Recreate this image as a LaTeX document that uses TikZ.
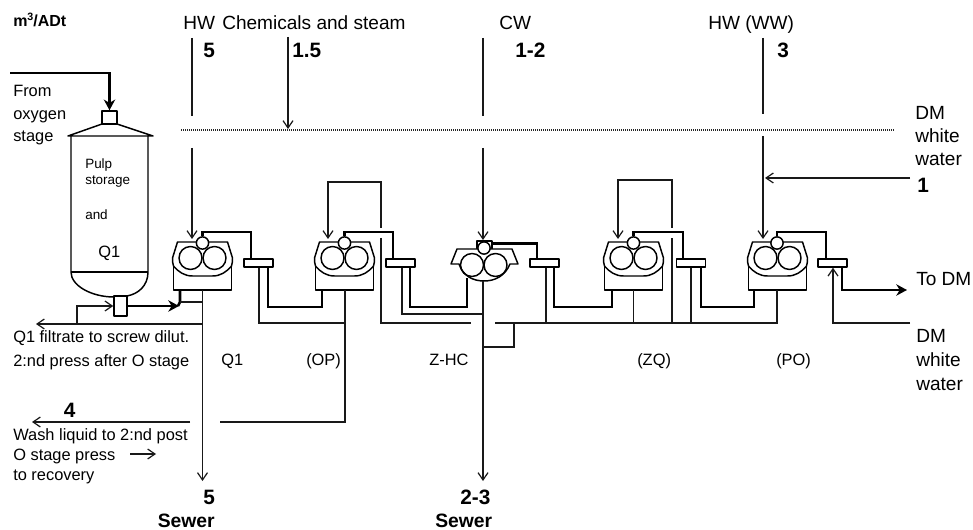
\documentclass[tikz,border=0pt]{standalone}
\usepackage{fontspec}
\setmainfont{Liberation Sans}
\usetikzlibrary{arrows.meta}
\tikzset{
  x=0.75pt,y=-0.75pt,
  thinline/.style={line width=1pt,black!90},
  thickline/.style={line width=2pt,black},
  eqline/.style={line width=1.1pt,black,line join=round},
  thinarrow/.style={thinline,-{Straight Barb[length=5.5pt,width=7.5pt,line width=0.9pt]}},
  thickarrow/.style={thickline,-{Stealth[length=8pt,width=8.5pt,inset=2.5pt]}},
  smallroll/.style={circle,draw,eqline,fill=white,minimum size=9.2pt,inner sep=0pt},
  filterbox/.style={rectangle,draw,eqline,fill=white,minimum width=21.5pt,minimum height=6pt,inner sep=0pt},
  lab/.style={anchor=base west,inner sep=0pt,font=\fontsize{14.3}{14.3}\selectfont},
  smalllab/.style={anchor=base west,inner sep=0pt,font=\fontsize{12.3}{12.3}\selectfont},
  tinylab/.style={anchor=base west,inner sep=0pt,font=\fontsize{10.1}{10.1}\selectfont},
  numlab/.style={anchor=base west,inner sep=0pt,font=\fontsize{15.6}{15.6}\selectfont\bfseries},
  sewerlab/.style={anchor=base west,inner sep=0pt,font=\fontsize{14.5}{14.5}\selectfont\bfseries},
  unitlab/.style={anchor=base west,inner sep=0pt,font=\fontsize{12}{12}\selectfont\bfseries},
}
\newcommand{\pressbody}[1]{%
  \begin{scope}[shift={(#1,0)},eqline]
    \draw (-29,262) -- (-29,290) -- (29,290) -- (29,262);
    \draw[fill=white] (-25,242) -- (25,242) -- (30,258) .. controls (30,261) and (30,263) .. (29,266)
      .. controls (24,272) and (18,276) .. (10,276) -- (-10,276)
      .. controls (-18,276) and (-24,272) .. (-29,266) .. controls (-30,263) and (-30,261) .. (-30,258) -- cycle;
    \draw (-12,258) circle[radius=11.5];
    \draw (12,258) circle[radius=11.5];
  \end{scope}}
\begin{document}
\begin{tikzpicture}
\useasboundingbox (0,0) rectangle (973,530);
% tank
\begin{scope}[eqline]
  \draw (71,136) -- (71,272) .. controls (71,286) and (92,297) .. (114,297);
  \draw (148,136) -- (148,272) .. controls (148,286) and (138,294) .. (127,296);
  \draw (71,272) -- (148,272);
  \draw (68,136) -- (102,124) -- (117,124) -- (153,136) -- cycle;
\end{scope}
\node[rectangle,draw,eqline,fill=white,minimum width=11.25pt,minimum height=9.75pt,inner sep=0pt] (neck) at (109.5,117.5) {};
\node[rectangle,draw,eqline,fill=white,minimum width=9.75pt,minimum height=15pt,inner sep=0pt] (valve) at (120.5,306) {};
% presses
\pressbody{202.5}
\pressbody{344.5}
\pressbody{633.5}
\pressbody{777.5}
% Z-HC press
\begin{scope}[eqline]
  \draw (477,249) -- (477,241) -- (492,241) -- (492,249);
  \draw[fill=white] (457,249) -- (512,249) -- (518,264) -- (510,264)
     .. controls (505,276) and (495,281) .. (484,281) .. controls (473,281) and (463,276) .. (459,264)
     -- (451,264) -- cycle;
  \draw (472,265) circle[radius=11.5];
  \draw (495.5,265) circle[radius=11.5];
\end{scope}
\node[smallroll] (p1) at (202.5,243) {};
\node[smallroll] (p2) at (344.5,243) {};
\node[smallroll] (p3) at (484,248) {};
\node[smallroll] (p4) at (633.5,243) {};
\node[smallroll] (p5) at (777,243) {};
\node[filterbox] (f1) at (258.5,263) {};
\node[filterbox] (f2) at (400.5,263) {};
\node[filterbox] (f3) at (544.5,263) {};
\node[filterbox] (f4) at (691,263) {};
\node[filterbox] (f5) at (832.5,263) {};
% named connector ends
\coordinate (pulpin) at (10,73);
\coordinate (hwA) at (192,38); \coordinate (hwB) at (192,116); \coordinate (hwC) at (192,148); \coordinate (hwD) at (192,239);
\coordinate (chemA) at (288,37); \coordinate (chemB) at (288,129);
\coordinate (cwA) at (483,38); \coordinate (cwB) at (483,116); \coordinate (cwC) at (483,148); \coordinate (cwD) at (483,240);
\coordinate (wwA) at (763,38); \coordinate (wwB) at (763,114); \coordinate (wwC) at (763,136); \coordinate (wwD) at (763,239);
\coordinate (dmA) at (910,178); \coordinate (dmB) at (765,178);
\coordinate (dotA) at (181,130); \coordinate (dotB) at (895,130);
\coordinate (toDM) at (907,290);
\coordinate (lowL) at (36,324); \coordinate (low4) at (32,422);
% thick connectors
\draw[thickarrow,line join=miter] (pulpin) -| (neck.north);
\draw[thickline] (p1.north) |- (251,232) -- (f1.north -| 251,0);
\draw[thickline] (p2.north) |- (393,232) -- (f2.north -| 393,0);
\draw[thickline] (p3.east |- 0,243.5) -- (537,243.5) -- (f3.north -| 537,0);
\draw[thickline] (p4.north) |- (683,232) -- (f4.north -| 683,0);
\draw[thickline] (p5.north) |- (826,232) -- (f5.north -| 826,0);
\draw[thickline] (f1.south -| 268,0) |- (322,307) -- (322,290);
\draw[thickline] (f2.south -| 410,0) |- (467,307) -- (467,278);
\draw[thickline] (f3.south -| 554,0) |- (612,307) -- (612,290);
\draw[thickline] (f4.south -| 701,0) |- (754,307) -- (754,290);
\draw[thickarrow] (f5.south -| 842,0) |- (toDM);
\draw[thickarrow] (valve.east) -- (179,306);
\draw[thickline] (180,290) -- (180,302) -- (178,306);
% thin connectors
\draw[thinline] (hwA) -- (hwB);
\draw[thinarrow] (hwC) -- (hwD);
\draw[thinarrow] (chemA) -- (chemB);
\draw[thinline] (cwA) -- (cwB);
\draw[thinarrow] (cwC) -- (cwD);
\draw[thinline] (wwA) -- (wwB);
\draw[thinarrow] (wwC) -- (wwD);
\draw[thinarrow] (dmA) -- (dmB);
\draw[line width=0.9pt,dash pattern=on 0.75pt off 0.75pt,black!85] (dotA) -- (dotB);
% press 1 outlets
\draw[thinline] (180,302) -- (202.5,302);
\draw[thinarrow] (202.5,290) -- (202.5,481);
\draw[thinarrow] (202.5,324) -- (lowL);
\draw[thinarrow] (77,324) |- (valve.west);
% press 2 outlets, loop
\draw[thinline] (f1.south -| 259,0) |- (345,323);
\draw[thinline] (345,290) |- (220,422);
\draw[thinarrow] (190,422) -- (low4);
\draw[thinarrow] (381,228) -- (381,182) -| (328,239);
\draw[thinline] (381,238) |- (471,323);
\draw[thinline] (f2.south -| 402,0) |- (483,314);
\draw[thinarrow] (483,281) -- (483,481);
\draw[thinline] (495,323) -- (777,323) -- (777,290);
\draw[thinline] (514,323) |- (483,347);
\draw[thinline] (f3.south -| 546,0) -- (546,323);
\draw[thinline] (633.5,290) -- (633.5,323);
\draw[thinline] (f4.south -| 691,0) -- (691,323);
\draw[thinline] (672,323) -- (672,238);
\draw[thinarrow] (672,228) -- (672,180) -| (618,239);
\draw[thinarrow] (910,323) -| (f5.south -| 833,0);
\draw[thinarrow] (130,454) -- (156,454);
% labels
\node[unitlab] (tunit) at (13,27) {m\raisebox{0.4em}{\fontsize{8}{8}\selectfont 3}/ADt};
\node[lab] (t1) at (183,30) {HW};
\node[lab] (t2) at (222,30) {Chemicals and steam};
\node[lab] (t3) at (499,30) {CW};
\node[lab] (t4) at (708,30) {HW (WW)};
\node[numlab] (n1) at (203,58) {5};
\node[numlab] (n2) at (292,58) {1.5};
\node[numlab] (n3) at (515,58) {1-2};
\node[numlab] (n4) at (777,58) {3};
\node[smalllab] (a1) at (13,97) {From};
\node[smalllab] (a2) at (13,119.5) {oxygen};
\node[smalllab] (a3) at (13,142) {stage};
\node[tinylab] (b1) at (85,169) {Pulp};
\node[tinylab] (b2) at (85,185) {storage};
\node[tinylab] (b3) at (85,220) {and};
\node[smalllab] (b4) at (98,258) {Q1};
\node[smalllab] (c1) at (13,343) {Q1 filtrate to screw dilut.};
\node[smalllab] (c2) at (13,367) {2:nd press after O stage};
\node[smalllab] (s1) at (221,366) {Q1};
\node[smalllab] (s2) at (306,366) {(OP)};
\node[smalllab] (s3) at (429,366) {Z-HC};
\node[smalllab] (s4) at (637,366) {(ZQ)};
\node[smalllab] (s5) at (776,366) {(PO)};
\node[numlab] (n5) at (63.5,417) {4};
\node[smalllab] (d1) at (13,440) {Wash liquid to 2:nd post};
\node[smalllab] (d2) at (13,460.5) {O stage press};
\node[smalllab] (d3) at (13,480) {to recovery};
\node[numlab] (n6) at (203,504.5) {5};
\node[numlab] (n7) at (460,504.5) {2-3};
\node[sewerlab] (e1) at (157.5,527.5) {Sewer};
\node[sewerlab] (e2) at (435,527.5) {Sewer};
\node[lab] (g1) at (915,120) {DM};
\node[lab] (g2) at (915,143) {white};
\node[lab] (g3) at (915,166) {water};
\node[numlab] (g4) at (917,193) {1};
\node[lab] (h0) at (916,286) {To DM};
\node[lab] (h1) at (916,343) {DM};
\node[lab] (h2) at (916,367) {white};
\node[lab] (h3) at (916,390.5) {water};
\end{tikzpicture}
\end{document}
